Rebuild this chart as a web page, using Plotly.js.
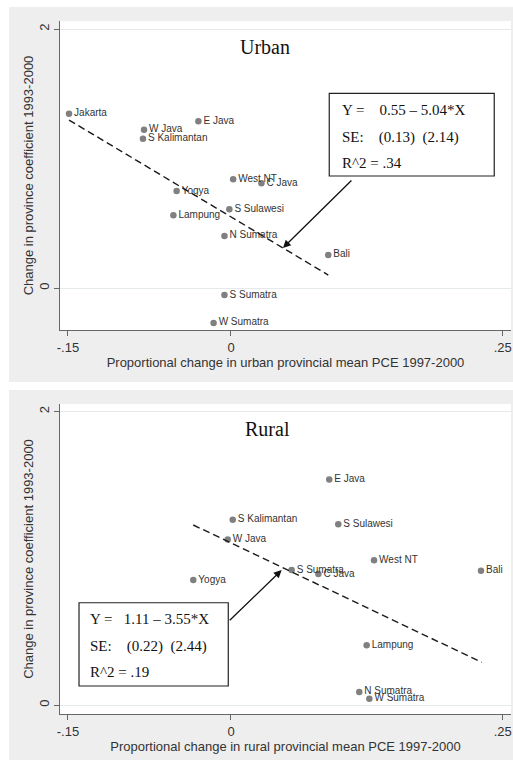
<!DOCTYPE html>
<html>
<head>
<meta charset="utf-8">
<script src="https://cdn.plot.ly/plotly-3.0.1.min.js"></script>
<style>html,body{margin:0;padding:0;background:#fff;}#chart{width:513px;height:760px;}</style>
</head>
<body>
<div id="chart"></div>
<script>
// ---- Data ----
const urbanNames = ["Jakarta","E Java","W Java","S Kalimantan","West NT","C Java","Yogya","S Sulawesi","Lampung","N Sumatra","Bali","S Sumatra","W Sumatra"];
const urbanX = [-0.149,-0.030,-0.080,-0.081,0.002,0.028,-0.050,-0.0015,-0.053,-0.006,0.0895,-0.006,-0.016];
const urbanY = [1.346,1.287,1.222,1.153,0.839,0.808,0.749,0.608,0.561,0.402,0.255,-0.054,-0.270];
const urbanFitX = [-0.149, 0.0895];
const urbanFitY = [1.297, 0.100];
const urbanBox = ["Y =    0.55 \u2013 5.04*X", "SE:    (0.13)  (2.14)", "R^2 = .34"];

const ruralNames = ["E Java","S Kalimantan","S Sulawesi","W Java","West NT","S Sumatra","Bali","C Java","Yogya","Lampung","N Sumatra","W Sumatra"];
const ruralX = [0.0904,0.0016,0.0987,-0.003,0.1316,0.0558,0.230,0.0804,-0.0347,0.1248,0.118,0.1273];
const ruralY = [1.538,1.263,1.232,1.129,0.986,0.920,0.916,0.893,0.852,0.407,0.089,0.043];
const ruralFitX = [-0.0347, 0.2306];
const ruralFitY = [1.227, 0.291];
const ruralBox = ["Y =   1.11 \u2013 3.55*X", "SE:    (0.22)  (2.44)", "R^2 = .19"];

const xTickVals = [-0.15, 0, 0.25];
const xTickText = ["-.15", "0", ".25"];
const yTickVals = [0, 2];
const yTickText = ["0", "2"];

// ---- Styles ----
const SANS = "Liberation Sans, Arial, sans-serif";
const SERIF = "Liberation Serif, Times New Roman, serif";
const markerStyle = {size: 6.5, color: "#808080"};
const labelFont = {family: SANS, size: 10, color: "#333"};
const fitLine = {color: "#1a1a1a", width: 1.4, dash: "7px,4px"};

const traces = [
  {x: urbanX, y: urbanY, text: urbanNames, type: "scatter", mode: "markers+text",
   textposition: "middle right", textfont: labelFont, marker: markerStyle, xaxis: "x", yaxis: "y", cliponaxis: false},
  {x: urbanFitX, y: urbanFitY, type: "scatter", mode: "lines", line: fitLine, xaxis: "x", yaxis: "y"},
  {x: ruralX, y: ruralY, text: ruralNames, type: "scatter", mode: "markers+text",
   textposition: "middle right", textfont: labelFont, marker: markerStyle, xaxis: "x2", yaxis: "y2", cliponaxis: false},
  {x: ruralFitX, y: ruralFitY, type: "scatter", mode: "lines", line: fitLine, xaxis: "x2", yaxis: "y2"}
];

const W = 513, H = 760;
const px = v => v / W;
const py = v => 1 - v / H;

function xAxis(title, anchor) {
  return {
    domain: [px(60), px(511)], range: [-0.1573, 0.2576], anchor: anchor,
    tickvals: xTickVals, ticktext: xTickText, ticks: "outside", ticklen: 5, tickwidth: 1, tickcolor: "#666",
    showline: true, linecolor: "#666", linewidth: 1, showgrid: false, zeroline: false,
    tickfont: {family: SANS, size: 13, color: "#333"},
    title: {text: title, font: {family: SANS, size: 13, color: "#333"}, standoff: 3}
  };
}
function yAxis(range, domain, anchor) {
  return {
    domain: domain, range: range, anchor: anchor,
    tickvals: yTickVals, ticktext: yTickText, tickangle: -90, ticks: "outside", ticklen: 5, tickwidth: 1, tickcolor: "#666",
    showline: true, linecolor: "#666", linewidth: 1, showgrid: true, gridcolor: "#e4eaec", gridwidth: 1, zeroline: false,
    tickfont: {family: SANS, size: 13, color: "#333"},
    title: {text: "Change in province coefficient 1993-2000", font: {family: SANS, size: 13, color: "#333"}, standoff: 0}
  };
}

const boxFont = {family: SERIF, size: 15, color: "#111"};
function boxAnn(lines, xref, yref, x, ys) {
  return lines.map((t, i) => ({text: t, xref: xref, yref: yref, x: x, y: ys[i], xanchor: "left", yanchor: "middle", showarrow: false, font: boxFont}));
}

const layout = {
  width: W, height: H,
  margin: {l: 0, r: 0, t: 0, b: 0},
  paper_bgcolor: "#ffffff", plot_bgcolor: "rgba(0,0,0,0)",
  showlegend: false,
  xaxis: xAxis("Proportional change in urban provincial mean PCE 1997-2000", "y"),
  yaxis: yAxis([-0.3243, 2.0618], [py(330), py(21)], "x"),
  xaxis2: xAxis("Proportional change in rural provincial mean PCE 1997-2000", "y2"),
  yaxis2: yAxis([-0.0613, 2.0518], [py(714), py(404)], "x2"),
  shapes: [
    {type: "rect", xref: "paper", yref: "paper", x0: px(9), x1: 1, y0: py(382), y1: py(7), fillcolor: "#eeeeee", line: {width: 0}, layer: "below"},
    {type: "rect", xref: "paper", yref: "paper", x0: px(9), x1: 1, y0: 0, y1: py(390), fillcolor: "#eeeeee", line: {width: 0}, layer: "below"},
    {type: "rect", xref: "paper", yref: "paper", x0: px(60), x1: px(511), y0: py(330), y1: py(21), fillcolor: "#ffffff", line: {width: 0}, layer: "below"},
    {type: "rect", xref: "paper", yref: "paper", x0: px(60), x1: px(511), y0: py(714), y1: py(404), fillcolor: "#ffffff", line: {width: 0}, layer: "below"},
    {type: "rect", xref: "x", yref: "y", x0: 0.0904, x1: 0.2422, y0: 0.865, y1: 1.503, line: {color: "#222", width: 1.2}, fillcolor: "rgba(255,255,255,0)"},
    {type: "rect", xref: "x2", yref: "y2", x0: -0.1398, x1: -0.0025, y0: 0.1295, y1: 0.697, line: {color: "#222", width: 1.2}, fillcolor: "rgba(255,255,255,0)"}
  ],
  annotations: [
    {text: "Urban", xref: "x", yref: "y", x: 0.031, y: 1.863, showarrow: false, font: {family: SERIF, size: 20, color: "#111"}},
    {text: "Rural", xref: "x2", yref: "y2", x: 0.034, y: 1.881, showarrow: false, font: {family: SERIF, size: 20, color: "#111"}},
    {text: "", xref: "x", yref: "y", x: 0.0478, y: 0.309, axref: "x", ayref: "y", ax: 0.1122, ay: 0.842,
     showarrow: true, arrowhead: 2, arrowsize: 1.2, arrowwidth: 1.3, arrowcolor: "#111", standoff: 0, startstandoff: 0},
    {text: "", xref: "x2", yref: "y2", x: 0.0466, y: 0.920, axref: "x2", ayref: "y2", ax: -0.0025, ay: 0.568,
     showarrow: true, arrowhead: 2, arrowsize: 1.2, arrowwidth: 1.3, arrowcolor: "#111", standoff: 0, startstandoff: 0}
  ].concat(boxAnn(urbanBox, "x", "y", 0.1003, [1.375, 1.166, 0.965]))
   .concat(boxAnn(ruralBox, "x2", "y2", -0.1316, [0.584, 0.402, 0.223]))
};

Plotly.newPlot("chart", traces, layout, {staticPlot: true, displayModeBar: false});
</script>
</body>
</html>
